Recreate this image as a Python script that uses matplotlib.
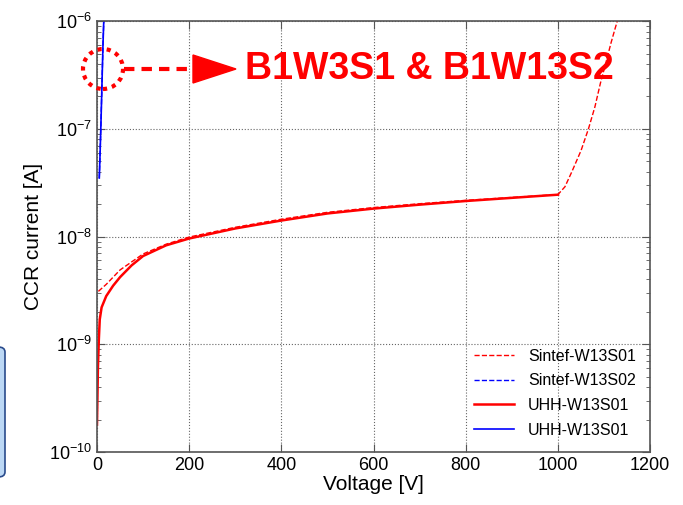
import numpy as np
import matplotlib.pyplot as plt
from matplotlib.patches import Ellipse, FancyBboxPatch, Polygon
from matplotlib.ticker import LogLocator, NullFormatter

plt.rcParams['font.family'] = ['Liberation Sans', 'DejaVu Sans']

# Sintef-W13S01 (red dashed)
sintef1_v = [3, 20, 50, 100, 150, 200, 300, 400, 500, 600, 700, 800, 900, 1000,
             1015, 1030, 1050, 1066, 1080, 1092, 1105, 1115, 1124, 1130]
sintef1_i = [3.1e-9, 3.6e-9, 4.9e-9, 6.9e-9, 8.5e-9, 9.9e-9, 1.22e-8, 1.45e-8, 1.68e-8,
             1.86e-8, 2.02e-8, 2.17e-8, 2.31e-8, 2.46e-8,
             2.9e-8, 4.0e-8, 6.3e-8, 1.0e-7, 1.6e-7, 2.66e-7, 4.3e-7, 6.3e-7, 8.6e-7, 1.05e-6]
# Sintef-W13S02 (blue dashed)
sintef2_v = [5, 7, 9, 11, 13, 15]
sintef2_i = [3.5e-8, 6.5e-8, 1.3e-7, 2.8e-7, 6.0e-7, 1.1e-6]
# UHH-W13S01 (red solid)
uhh1_v = [0, 2, 4, 6, 10, 20, 35, 50, 75, 100, 150, 200, 300, 400, 500, 600, 700, 800, 900, 1000]
uhh1_i = [1.8e-10, 6e-10, 1.1e-9, 1.7e-9, 2.2e-9, 2.8e-9, 3.5e-9, 4.2e-9, 5.4e-9, 6.6e-9,
          8.3e-9, 9.6e-9, 1.19e-8, 1.41e-8, 1.64e-8, 1.82e-8, 1.98e-8, 2.14e-8, 2.29e-8, 2.45e-8]
# UHH-W13S01 (blue solid)
uhh2_v = [5, 7, 9, 11, 13, 15]
uhh2_i = [3.5e-8, 6.5e-8, 1.3e-7, 2.8e-7, 6.0e-7, 1.1e-6]

labels = ['Sintef-W13S01', 'Sintef-W13S02', 'UHH-W13S01', 'UHH-W13S01']

fig = plt.figure(figsize=(6.83, 5.05), dpi=100)
ax = fig.add_axes([0.142, 0.105, 0.810, 0.853])

ax.plot(sintef1_v, sintef1_i, '--', color='red', lw=1.0, label=labels[0])
ax.plot(sintef2_v, sintef2_i, '--', color='blue', lw=1.0, label=labels[1])
ax.plot(uhh1_v, uhh1_i, '-', color='red', lw=1.8, label=labels[2])
ax.plot(uhh2_v, uhh2_i, '-', color='blue', lw=1.2, label=labels[3])

ax.set_yscale('log')
ax.set_xlim(0, 1200)
ax.set_ylim(1e-10, 1e-6)
ax.set_xticks([0, 200, 400, 600, 800, 1000, 1200])
ax.yaxis.set_major_locator(LogLocator(base=10, numticks=10))
ax.yaxis.set_minor_locator(LogLocator(base=10, subs=np.arange(2, 10), numticks=10))
ax.yaxis.set_minor_formatter(NullFormatter())
ax.tick_params(which='both', direction='in', top=True, right=True, labelsize=13, color='#555555')
ax.tick_params(which='major', length=6)
ax.tick_params(which='minor', length=3)
ax.grid(True, which='major', linestyle=':', color='#666666', lw=0.8)
for s in ax.spines.values():
    s.set_color('#555555')
    s.set_linewidth(1.2)

ax.set_xlabel('Voltage [V]', fontsize=15, labelpad=1)
ax.set_ylabel('CCR current [A]', fontsize=15, labelpad=4)

leg = ax.legend(loc='lower right', frameon=False, fontsize=11.5, handlelength=2.5,
                handletextpad=0.9, labelspacing=0.6, bbox_to_anchor=(1.0, 0.0))

# annotation: dotted circle, dashed arrow and label (in pixel-ish figure coords)
W, H = 683, 505
circ = Ellipse((103 / W, 1 - 69 / H), 40 / W, 40 / H, transform=fig.transFigure,
               fill=False, edgecolor='red', linestyle=(0, (1, 1.2)), lw=3.0)
fig.add_artist(circ)
fig.add_artist(plt.Line2D([124 / W, 196 / W], [1 - 69 / H, 1 - 69 / H], transform=fig.transFigure,
                          color='red', lw=3.0, linestyle=(0, (2.5, 1.7))))
tri = Polygon([[193 / W, 1 - 55 / H], [193 / W, 1 - 83 / H], [236 / W, 1 - 69 / H]],
              closed=True, transform=fig.transFigure, color='red')
fig.add_artist(tri)
fig.text(245 / W, 1 - 69 / H, 'B1W3S1 & B1W13S2', color='red', fontsize=27,
         fontweight='bold', va='center', ha='left')

# partially visible box on left edge
box = FancyBboxPatch((-20 / W, 1 - 477 / H), 25 / W, 130 / H, transform=fig.transFigure,
                     boxstyle='round,pad=0,rounding_size=0.01', facecolor='#bcd8f5',
                     edgecolor='#2a4b8c', lw=1.2)
fig.add_artist(box)

fig.savefig('out.png', dpi=100)
